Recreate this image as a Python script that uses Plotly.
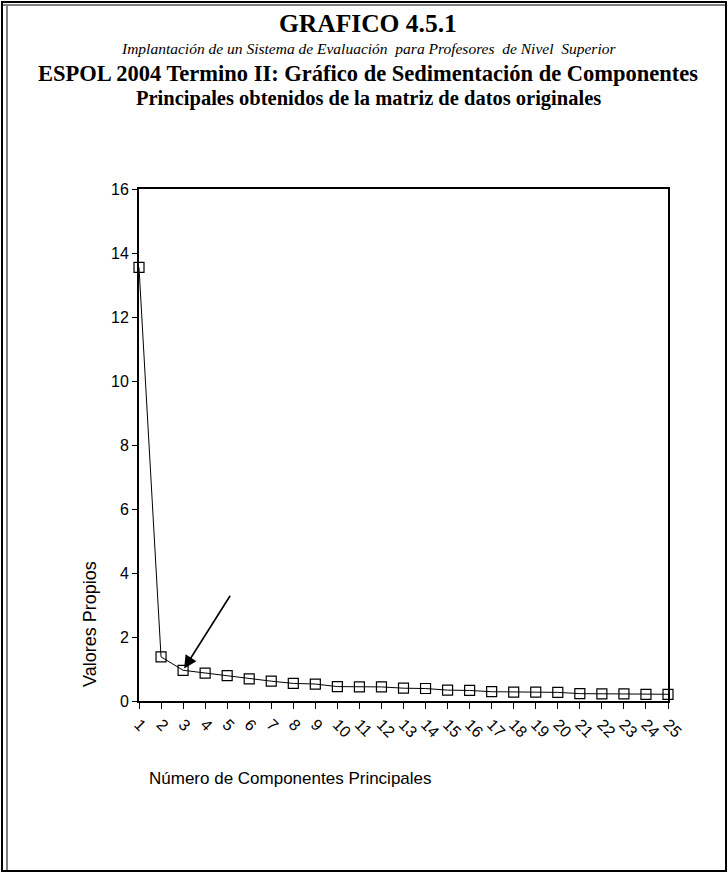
import plotly.graph_objects as go

# scree plot data
componentes = list(range(1, 26))
etiquetas = [str(c) for c in componentes]
valores_propios = [13.55, 1.38, 0.96, 0.87, 0.79, 0.69, 0.62, 0.55, 0.53, 0.45,
                   0.44, 0.44, 0.40, 0.39, 0.34, 0.33, 0.29, 0.28, 0.28, 0.27,
                   0.23, 0.22, 0.22, 0.21, 0.21]

W, H = 728, 874
L, R, T, B = 139, 668, 189, 701  # plot area in px


def px(x):
    return (x - L) / (R - L)


def py(y):
    return (B - y) / (B - T)


SERIF = "Liberation Serif"
SANS = "Liberation Sans"

fig = go.Figure()
fig.add_trace(go.Scatter(
    x=componentes, y=valores_propios, mode="lines+markers",
    line=dict(color="black", width=1),
    marker=dict(symbol="square-open", size=10, color="black", line=dict(width=1.2)),
    cliponaxis=False, showlegend=False
))

titulos = [
    ("<b>GRAFICO 4.5.1</b>", 23, 25.5),
    ("<i>Implantación de un Sistema de Evaluación  para Profesores  de Nivel  Superior</i>", 48, 15.5),
    ("<b>ESPOL 2004 Termino II: Gráfico de Sedimentación de Componentes</b>", 73, 22.5),
    ("<b>Principales obtenidos de la matriz de datos originales</b>", 98, 20.5),
]
annotations = []
for txt, yc, size in titulos:
    annotations.append(dict(
        text=txt, xref="paper", yref="paper", x=px(368), y=py(yc),
        xanchor="center", yanchor="middle", showarrow=False,
        font=dict(family=SERIF, size=size, color="black")
    ))

annotations.append(dict(
    text="Número de Componentes Principales", xref="paper", yref="paper",
    x=px(147), y=py(778), xanchor="left", yanchor="middle", showarrow=False,
    font=dict(family=SANS, size=17, color="black")
))
annotations.append(dict(
    text="Valores Propios", xref="paper", yref="paper", textangle=-90,
    x=px(90), y=py(624), xanchor="center", yanchor="middle", showarrow=False,
    font=dict(family=SANS, size=18, color="black")
))
# flecha que señala el codo (componente 3)
annotations.append(dict(
    x=componentes[2], y=valores_propios[2], xref="x", yref="y", text="",
    showarrow=True, arrowhead=2, arrowsize=1.6, arrowwidth=1.6, arrowcolor="black",
    ax=48, ay=-76, standoff=2
))

shapes = [
    dict(type="rect", xref="paper", yref="paper", x0=px(2), x1=px(726), y0=py(2), y1=py(871),
         line=dict(color="black", width=2)),
    dict(type="line", xref="paper", yref="paper", x0=px(7), x1=px(7), y0=py(6), y1=py(871),
         line=dict(color="black", width=1)),
    dict(type="line", xref="paper", yref="paper", x0=px(2), x1=px(726), y0=py(5), y1=py(5),
         line=dict(color="black", width=1)),
]

fig.update_layout(
    width=W, height=H,
    margin=dict(l=L, r=W - R, t=T, b=H - B),
    paper_bgcolor="white", plot_bgcolor="white",
    annotations=annotations, shapes=shapes,
    xaxis=dict(
        range=[1, 25], tickvals=componentes, ticktext=etiquetas, tickangle=45,
        showgrid=False, zeroline=False, showline=True, linecolor="black", linewidth=2,
        mirror=True, ticks="outside", ticklen=6, tickcolor="black",
        tickfont=dict(family=SANS, size=16, color="black")
    ),
    yaxis=dict(
        range=[0, 16], dtick=2, showgrid=False, zeroline=False, showline=True,
        linecolor="black", linewidth=2, mirror=True, ticks="outside", ticklen=5,
        tickcolor="black", tickfont=dict(family=SANS, size=16, color="black")
    ),
)

fig.write_html("out.html", config={"displayModeBar": False},
               post_script="document.body.style.margin='0';document.body.style.overflow='hidden';")
